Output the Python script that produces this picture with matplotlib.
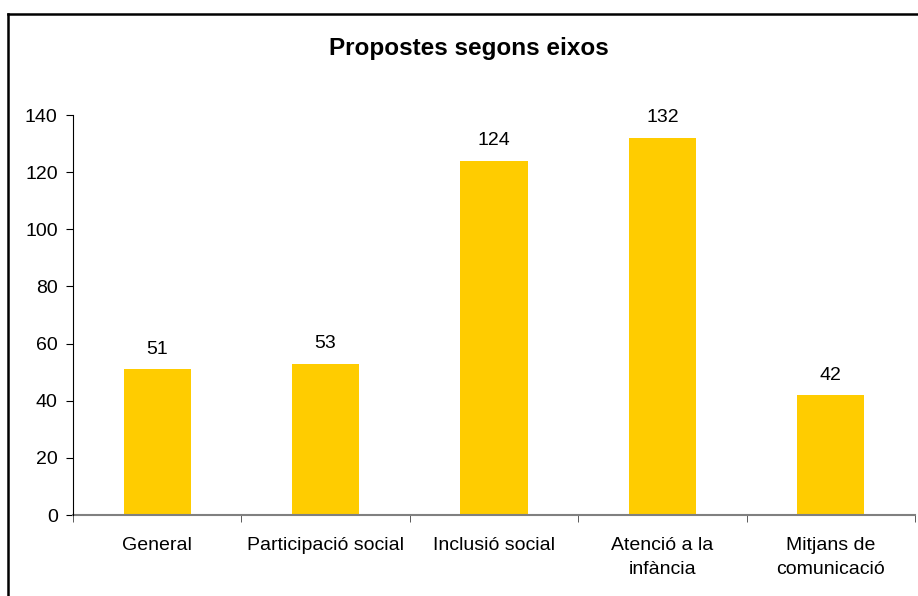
import numpy as np
import matplotlib as mpl
mpl.use('Agg')
import matplotlib.pyplot as plt
from matplotlib.lines import Line2D

categories = ['General', 'Participació social', 'Inclusió social',
              'Atenció a la\ninfància', 'Mitjans de\ncomunicació']
values = [51, 53, 124, 132, 42]
yticks = [0, 20, 40, 60, 80, 100, 120, 140]

plt.rcParams['font.family'] = ['Liberation Sans', 'DejaVu Sans']

fig = plt.figure(figsize=(9.18, 5.96), dpi=100)
ax = fig.add_axes([73 / 918, 1 - 515 / 596, (915 - 73) / 918, 400 / 596])

x = np.arange(len(categories))
ax.bar(x, values, width=0.4, color='#FFCC00', zorder=2)
for xi, v in zip(x, values):
    ax.text(xi, v + 4, str(v), ha='center', va='bottom', fontsize=14)

ax.set_xlim(-0.5, len(categories) - 0.5)
ax.set_ylim(0, 140)
ax.set_yticks(yticks)
ax.tick_params(axis='y', labelsize=14, length=5, direction='out', pad=6)

ax.set_xticks(x)
ax.set_xticklabels(categories, fontsize=14, linespacing=1.55)
ax.tick_params(axis='x', length=0, pad=16)
ax.set_xticks(np.arange(len(categories) + 1) - 0.5, minor=True)
ax.tick_params(axis='x', which='minor', length=5, color='#404040')

for s in ['top', 'right']:
    ax.spines[s].set_visible(False)
ax.spines['bottom'].set_color('#808080')
ax.spines['bottom'].set_linewidth(1.5)
ax.spines['left'].set_color('black')
ax.spines['left'].set_zorder(3)

fig.text(469 / 918, 1 - 49 / 596, 'Propostes segons eixos', ha='center',
         va='center', fontsize=17.5, fontweight='bold')

# chart frame (only top and left edges visible)
fig.add_artist(Line2D([8 / 918, 1], [1 - 14 / 596, 1 - 14 / 596],
                      transform=fig.transFigure, color='black', lw=1.8))
fig.add_artist(Line2D([8 / 918, 8 / 918], [0, 1 - 14 / 596],
                      transform=fig.transFigure, color='black', lw=1.8))

plt.savefig('out.png', dpi=100)
